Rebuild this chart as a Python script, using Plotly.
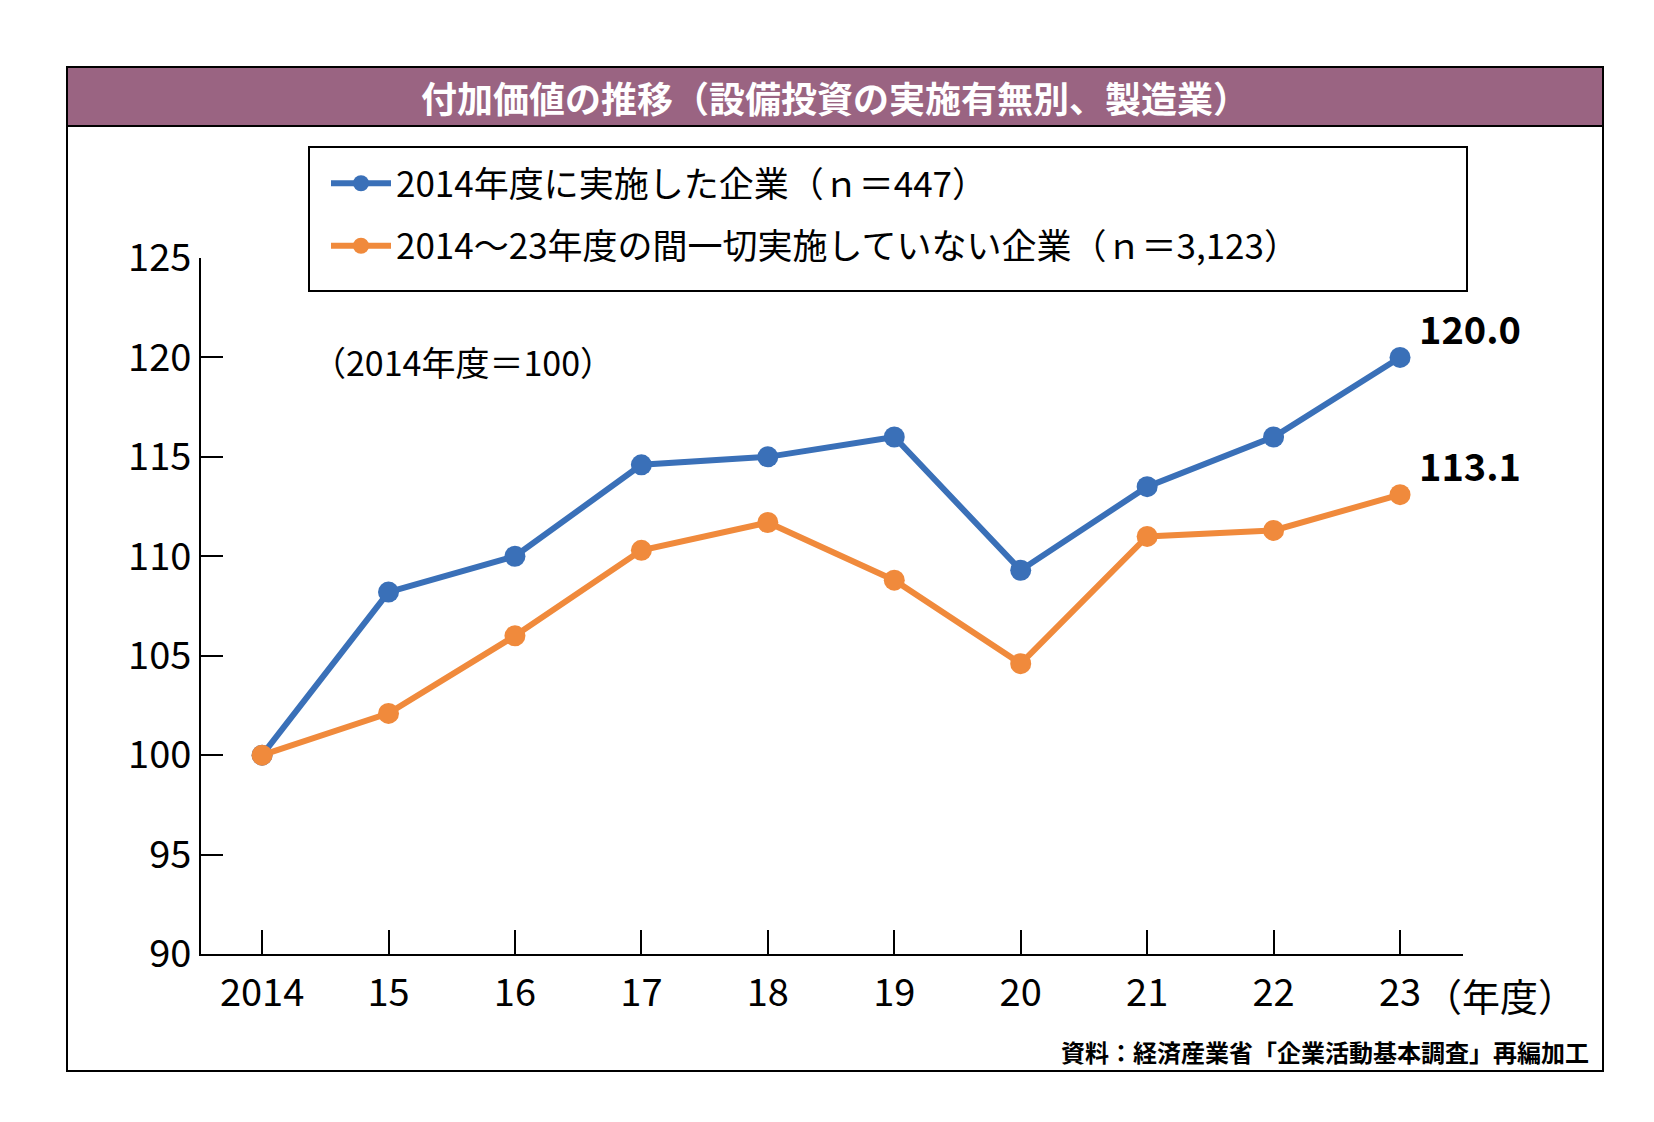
import plotly.graph_objects as go

years = [2014, 2015, 2016, 2017, 2018, 2019, 2020, 2021, 2022, 2023]
year_labels = ["2014", "15", "16", "17", "18", "19", "20", "21", "22", "23"]
invested = [100, 108.2, 110.0, 114.6, 115.0, 116.0, 109.3, 113.5, 116.0, 120.0]
not_invested = [100, 102.1, 106.0, 110.3, 111.7, 108.8, 104.6, 111.0, 111.3, 113.1]
y_ticks = [90, 95, 100, 105, 110, 115, 120, 125]

FONT = "Noto Sans CJK JP"
BLUE = "#3a70b8"
ORANGE = "#f08a3c"

# plot area in pixels
L, R, T, B = 193, 1455, 250, 946
W, H = 1654, 1122
def px(x): return (x - L) / (R - L)
def py(y): return (B - y) / (B - T)

fig = go.Figure()
fig.add_trace(go.Scatter(x=years, y=invested, mode="lines+markers",
                         name="2014年度に実施した企業（ｎ＝447）", legendgroup="a",
                         line=dict(color=BLUE, width=6), marker=dict(size=21, color=BLUE)))
fig.add_trace(go.Scatter(x=years, y=not_invested, mode="lines+markers",
                         name="2014～23年度の間一切実施していない企業（ｎ＝3,123）", legendgroup="b",
                         line=dict(color=ORANGE, width=6), marker=dict(size=21, color=ORANGE)))

shapes = [
    dict(type="rect", xref="paper", yref="paper", x0=px(59), x1=px(1595), y0=py(1063), y1=py(59),
         line=dict(color="black", width=2), layer="below"),
    dict(type="rect", xref="paper", yref="paper", x0=px(59), x1=px(1595), y0=py(118), y1=py(59),
         line=dict(color="black", width=2), fillcolor="#9a6482", layer="below"),
    dict(type="rect", xref="paper", yref="paper", x0=px(301), x1=px(1459), y0=py(283), y1=py(139),
         line=dict(color="black", width=2), fillcolor="white", layer="below"),
]

annotations = [
    dict(text="<b>付加価値の推移（設備投資の実施有無別、製造業）</b>", xref="paper", yref="paper",
         x=px(827), y=py(89), xanchor="center", yanchor="middle", showarrow=False,
         font=dict(size=36, color="white", family=FONT)),
    dict(text="（2014年度＝100）", xref="paper", yref="paper", x=px(455), y=py(353),
         xanchor="center", yanchor="middle",
         showarrow=False, font=dict(size=34, color="black", family=FONT)),
    dict(text="<b>" + f"{invested[-1]:.1f}" + "</b>", x=years[-1], y=invested[-1], xshift=70, yshift=30,
         showarrow=False, font=dict(size=38, color="black", family=FONT)),
    dict(text="<b>" + f"{not_invested[-1]:.1f}" + "</b>", x=years[-1], y=not_invested[-1], xshift=70, yshift=30,
         showarrow=False, font=dict(size=38, color="black", family=FONT)),
    dict(text="（年度）", x=years[-1], y=90, xshift=22, yshift=-40, xanchor="left", yanchor="middle",
         showarrow=False, font=dict(size=38, color="black", family=FONT)),
    dict(text="<b>資料：経済産業省「企業活動基本調査」再編加工</b>", xref="paper", yref="paper",
         x=px(1583), y=py(1043), xanchor="right", yanchor="middle", showarrow=False,
         font=dict(size=24, color="black", family=FONT)),
]

fig.update_layout(
    width=W, height=H, paper_bgcolor="white", plot_bgcolor="white",
    margin=dict(l=L, r=W - R, t=T, b=H - B),
    font=dict(family=FONT, color="black"),
    shapes=shapes, annotations=annotations,
    legend=dict(x=px(318), y=py(146), xanchor="left", yanchor="top",
                bgcolor="rgba(0,0,0,0)", font=dict(size=35, family=FONT),
                itemwidth=60, tracegroupgap=14),
    xaxis=dict(range=[2013.517, 2023.498], tickvals=years, ticktext=year_labels,
               showgrid=False, zeroline=False, showline=True, linecolor="black", linewidth=2,
               ticks="inside", ticklen=24, tickwidth=2, tickcolor="black",
               tickfont=dict(size=38, family=FONT), ticklabelstandoff=4),
    yaxis=dict(range=[90, 125], tickvals=y_ticks, showgrid=False, zeroline=False,
               showline=True, linecolor="black", linewidth=2,
               ticks="inside", ticklen=22, tickwidth=2, tickcolor="black",
               tickfont=dict(size=38, family=FONT)),
)

fig.write_html("out.html")
